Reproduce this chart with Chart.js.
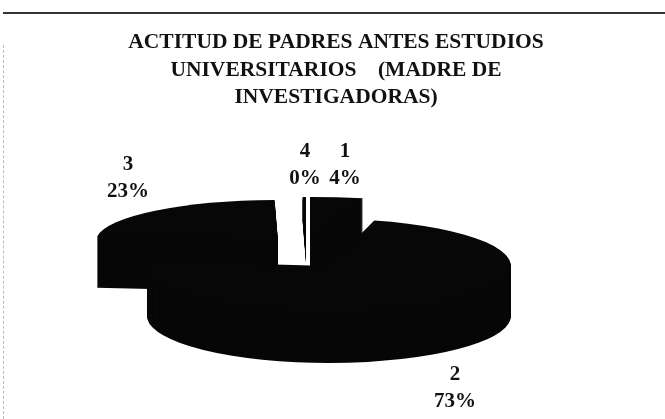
<!DOCTYPE html>
<html>
<head>
<meta charset="utf-8">
<script src="https://cdn.jsdelivr.net/npm/chart.js@4"></script>
<style>
    html, body { margin: 0; background: #fff; }
    #wrap { position: relative; width: 665px; height: 419px; overflow: hidden; }
    #rule { position: absolute; left: 3px; right: 0; top: 12px; border-top: 2px solid #333; }
    #side { position: absolute; left: 3px; top: 45px; bottom: 0; border-left: 1px dashed #bbb; }
</style>
</head>
<body>
<div id="wrap">
    <div id="rule"></div>
    <div id="side"></div>
    <canvas id="pie" width="665" height="419"></canvas>
</div>
<script>
const titleLines = [
    "ACTITUD DE PADRES ANTES ESTUDIOS",
    "UNIVERSITARIOS    (MADRE DE",
    "INVESTIGADORAS)",
];
const categories = ["1", "2", "3", "4"];
const shares = [4, 72.7, 23, 0.3];
const shareLabels = ["4%", "73%", "23%", "0%"];

// the fake 3D look of the old spreadsheet pie: each slice gets its own centre and squash
const sliceLook = [
    { cx: 310, cy: 239, rx: 213, ry: 42, depth: 50 },
    { cx: 329, cy: 266, rx: 182, ry: 47, depth: 50 },
    { cx: 278, cy: 241, rx: 182, ry: 41, depth: 51 },
    { cx: 306, cy: 239, rx: 182, ry: 42, depth: 24 },
];
const labelSpots = [
    { x: 345, y: 152 },
    { x: 455, y: 375 },
    { x: 128, y: 165 },
    { x: 305, y: 152 },
];
const drawOrder = [2, 3, 0, 1];

const flatPie = {
    id: "flatPie",
    beforeDatasetsDraw(chart) {
        const ctx = chart.ctx;
        const arcs = chart.getDatasetMeta(0).data;
        drawOrder.forEach((i) => {
            const arc = arcs[i];
            const look = sliceLook[i];
            for (let d = look.depth; d >= 0; d--) {
                ctx.save();
                ctx.translate(look.cx, look.cy + d);
                ctx.scale(look.rx / arc.outerRadius, look.ry / arc.outerRadius);
                ctx.translate(-arc.x, -arc.y);
                arc.draw(ctx);
                ctx.restore();
            }
        });
        return false; // slices are already drawn
    },
    afterDraw(chart) {
        const ctx = chart.ctx;
        ctx.save();
        ctx.fillStyle = "#111";
        ctx.font = "bold 21px 'Liberation Serif'";
        ctx.textAlign = "center";
        ctx.textBaseline = "middle";
        categories.forEach((name, i) => {
            ctx.fillText(name, labelSpots[i].x, labelSpots[i].y);
            ctx.fillText(shareLabels[i], labelSpots[i].x, labelSpots[i].y + 27);
        });
        ctx.restore();
    },
};

new Chart(document.getElementById("pie"), {
    type: "pie",
    data: {
        labels: categories,
        datasets: [
            {
                data: shares,
                backgroundColor: "#070707",
                borderColor: "#070707",
                borderWidth: 0,
            },
        ],
    },
    options: {
        responsive: false,
        animation: false,
        layout: { padding: { left: 7 } },
        plugins: {
            legend: { display: false },
            tooltip: { enabled: false },
            title: {
                display: true,
                text: titleLines,
                color: "#111",
                font: { family: "'Liberation Serif'", size: 21.5, weight: "bold", lineHeight: 1.28 },
                padding: { top: 29, bottom: 0 },
            },
        },
    },
    plugins: [flatPie],
});
</script>
</body>
</html>
